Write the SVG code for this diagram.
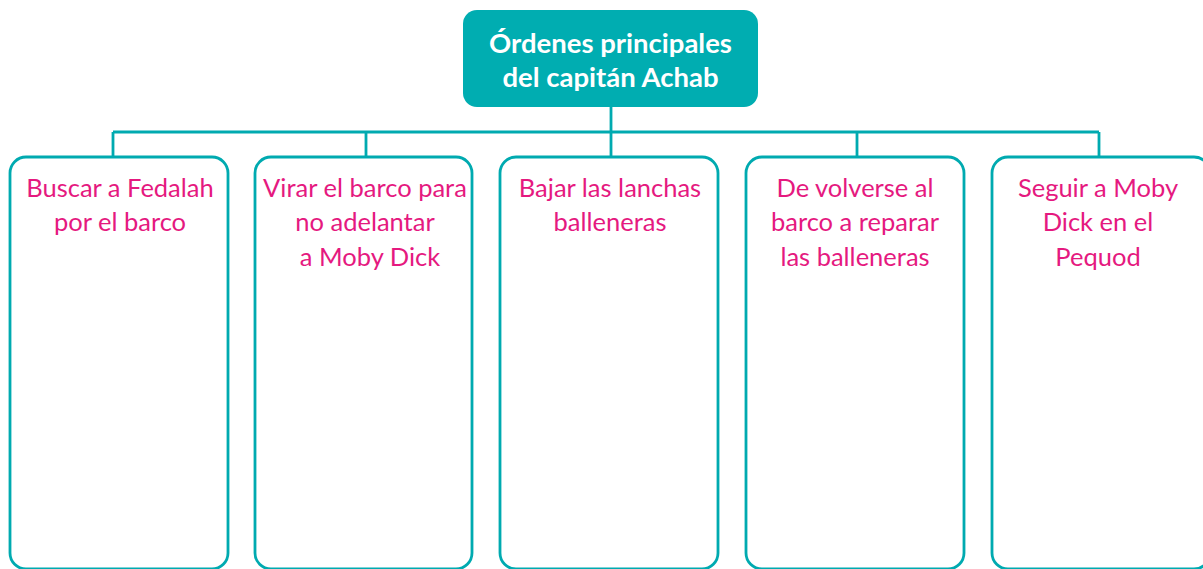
<svg xmlns="http://www.w3.org/2000/svg" width="1203" height="569" viewBox="0 0 1203 569">
<style>
.box{fill:#ffffff;stroke:#00AAB0;stroke-width:2.8}
.conn{fill:none;stroke:#00AAB0;stroke-width:2.8}
.t{font-family:Lato,"Open Sans",sans-serif;font-size:25.5px;fill:#E5197F;text-anchor:middle}
.h{font-family:Lato,"Open Sans",sans-serif;font-size:27.5px;font-weight:bold;fill:#ffffff;text-anchor:middle}
</style>
<rect width="1203" height="569" fill="#ffffff"/>
<g id="connectors">
<path class="conn" d="M611 107V132M113 132H1099M113 132V157M366 132V157M611 132V157M857 132V157M1099 132V157"/>
</g>
<g id="root">
<rect x="463" y="10" width="295" height="97" rx="14" fill="#00ADB1"/>
<text class="h" x="610.5" y="53">Órdenes principales</text>
<text class="h" x="610.5" y="87">del capitán Achab</text>
</g>
<g id="n1">
<rect class="box" x="10" y="157" width="218" height="412" rx="16"/>
<text class="t" x="120" y="197">Buscar a Fedalah</text>
<text class="t" x="120" y="231">por el barco</text>
</g>
<g id="n2">
<rect class="box" x="255" y="157" width="217" height="412" rx="16"/>
<text class="t" x="365" y="197">Virar el barco para</text>
<text class="t" x="365" y="231">no adelantar</text>
<text class="t" x="370" y="266">a Moby Dick</text>
</g>
<g id="n3">
<rect class="box" x="500" y="157" width="218" height="412" rx="16"/>
<text class="t" x="610" y="197">Bajar las lanchas</text>
<text class="t" x="610" y="231">balleneras</text>
</g>
<g id="n4">
<rect class="box" x="746" y="157" width="218" height="412" rx="16"/>
<text class="t" x="855" y="197">De volverse al</text>
<text class="t" x="855" y="231">barco a reparar</text>
<text class="t" x="855" y="266">las balleneras</text>
</g>
<g id="n5">
<rect class="box" x="992" y="157" width="218" height="412" rx="16"/>
<text class="t" x="1098" y="197">Seguir a Moby</text>
<text class="t" x="1098" y="231">Dick en el</text>
<text class="t" x="1098" y="266">Pequod</text>
</g>
</svg>
